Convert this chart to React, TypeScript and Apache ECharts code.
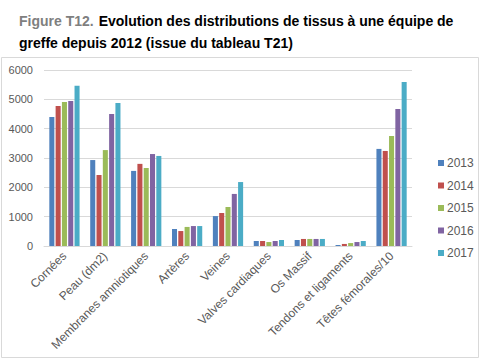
import React, { useEffect, useRef } from "react";
import * as echarts from "echarts";

const categories = [
  "Cornées",
  "Peau (dm2)",
  "Membranes amniotiques",
  "Artères",
  "Veines",
  "Valves cardiaques",
  "Os Massif",
  "Tendons et ligaments",
  "Têtes fémorales/10",
];
const years = ["2013", "2014", "2015", "2016", "2017"];
const v2013 = [4400, 2930, 2560, 580, 1020, 170, 205, 35, 3310];
const v2014 = [4770, 2420, 2800, 510, 1125, 170, 240, 70, 3240];
const v2015 = [4910, 3270, 2660, 650, 1330, 135, 240, 100, 3750];
const v2016 = [4940, 4500, 3135, 680, 1775, 170, 240, 135, 4670];
const v2017 = [5460, 4875, 3070, 680, 2180, 205, 240, 170, 5590];
const seriesValues = [v2013, v2014, v2015, v2016, v2017];
const colors = ["#4F81BD", "#C0504D", "#9BBB59", "#8064A2", "#4BACC6"];
const yTicks = [0, 1000, 2000, 3000, 4000, 5000, 6000];

export default function App() {
  const ref = useRef<HTMLDivElement>(null);
  useEffect(() => {
    if (!ref.current) return;
    const chart = echarts.init(ref.current, null, { renderer: "svg" });
    chart.setOption({
      animation: false,
      color: colors,
      title: {
        left: 14,
        top: 5,
        text:
          "{a|Figure T12.} {b|Evolution des distributions de tissus à une équipe de}\n{b|greffe depuis 2012 (issue du tableau T21)}",
        textStyle: {
          rich: {
            a: {
              fontFamily: "Liberation Sans",
              fontWeight: "bold",
              fontSize: 14,
              color: "#7F7F7F",
              lineHeight: 22,
            },
            b: {
              fontFamily: "Liberation Sans",
              fontWeight: "bold",
              fontSize: 14,
              color: "#000000",
              lineHeight: 22,
            },
          },
        },
      },
      graphic: [
        {
          type: "rect",
          shape: { x: 1.5, y: 57.5, width: 477, height: 300 },
          style: { fill: "none", stroke: "#D9D9D9", lineWidth: 1 },
          silent: true,
        },
      ],
      legend: {
        orient: "vertical",
        left: 433,
        top: 152,
        itemWidth: 6,
        itemHeight: 6,
        itemGap: 10.5,
        icon: "rect",
        data: years,
        textStyle: {
          fontFamily: "Liberation Sans",
          fontSize: 12,
          color: "#595959",
          padding: [0, 0, 0, -2],
        },
      },
      grid: { left: 44, right: 68, top: 70, bottom: 114 },
      xAxis: {
        type: "category",
        data: categories,
        axisTick: { show: false },
        axisLine: { lineStyle: { color: "#D9D9D9" } },
        axisLabel: {
          rotate: 45,
          interval: 0,
          margin: 8,
          fontFamily: "Liberation Sans",
          fontSize: 12,
          color: "#595959",
        },
      },
      yAxis: {
        type: "value",
        min: yTicks[0],
        max: yTicks[yTicks.length - 1],
        interval: 1000,
        axisLine: { show: false },
        axisTick: { show: false },
        splitLine: { lineStyle: { color: "#D9D9D9" } },
        axisLabel: {
          margin: 11,
          fontFamily: "Liberation Sans",
          fontSize: 11,
          color: "#595959",
          formatter: (v: number) => String(v),
        },
      },
      series: years.map((y, i) => ({
        name: y,
        type: "bar",
        data: seriesValues[i],
        barGap: "25%",
        barCategoryGap: "26%",
      })),
    });
    return () => chart.dispose();
  }, []);
  return (
    <div
      ref={ref}
      style={{ position: "fixed", left: 0, top: 0, width: 480, height: 360, background: "#fff" }}
    />
  );
}
